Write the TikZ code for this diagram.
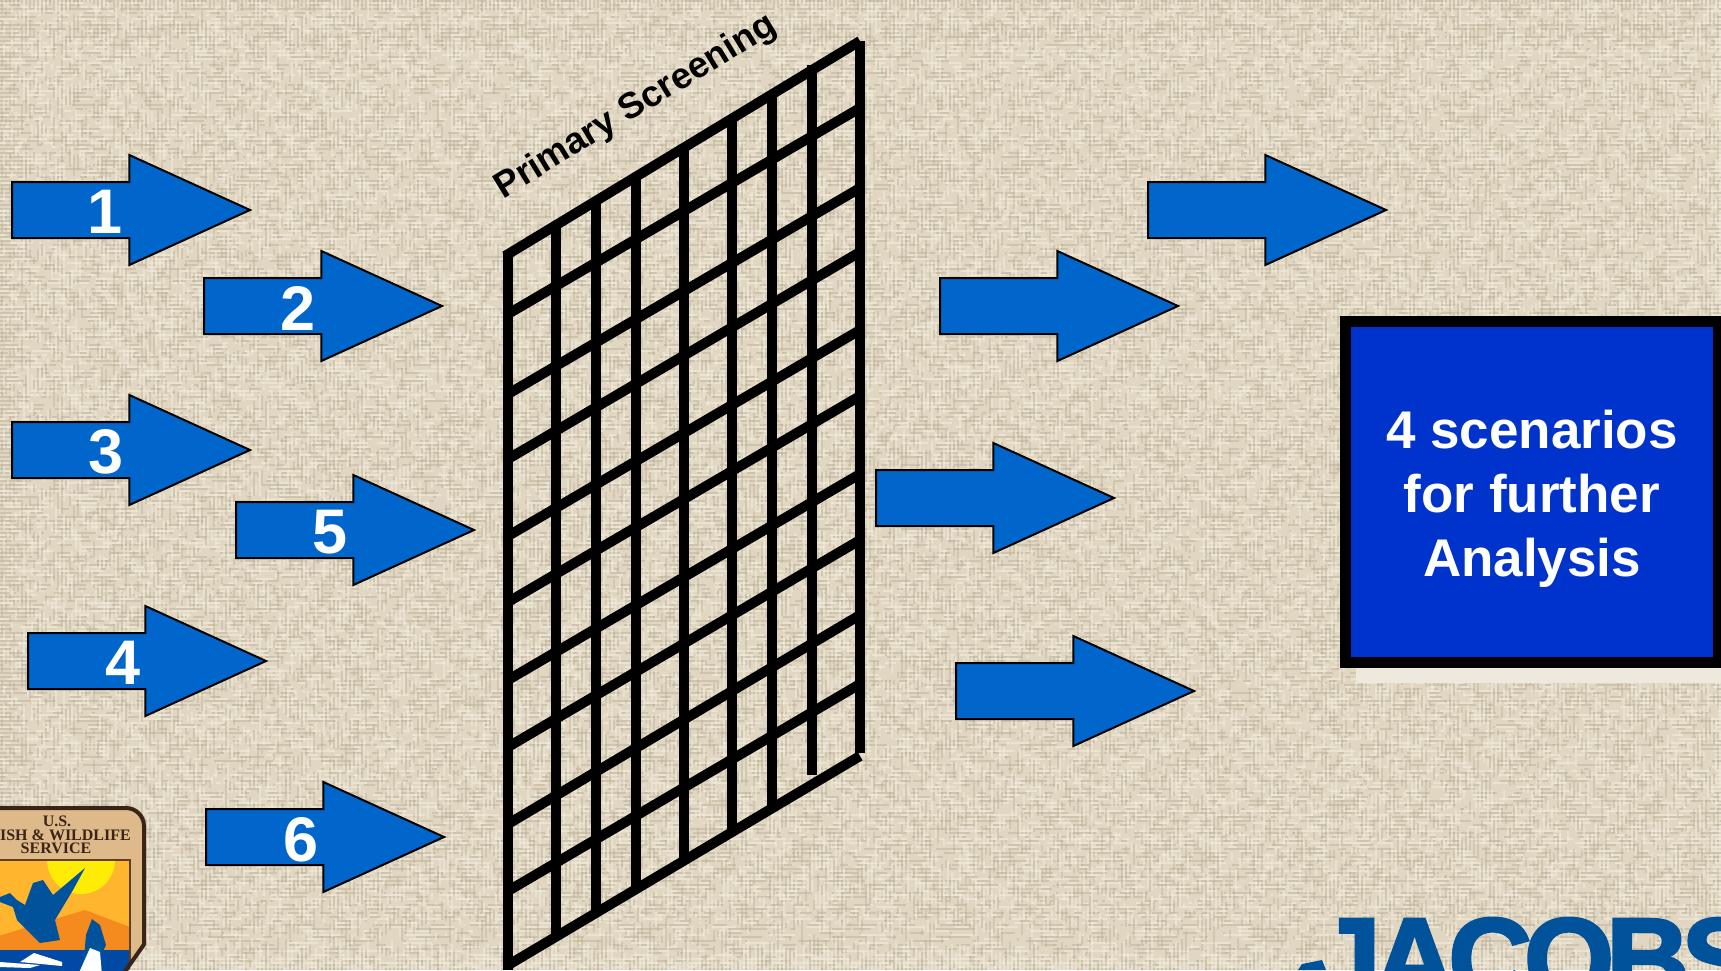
\documentclass[tikz,border=0pt]{standalone}
\usepackage{fontspec}
\setmainfont{Liberation Sans}
\newfontfamily\SerifFont{Liberation Serif}
\newfontfamily\JacobsFont[UprightFont=* Bold,FakeBold=2.5,LetterSpace=-7]{Liberation Sans}
\usepackage{xcolor}
\usetikzlibrary{shapes.arrows}
\definecolor{ColBack}{RGB}{224,214,193}
\definecolor{ColThread}{RGB}{165,155,130}
\definecolor{ColLight}{RGB}{243,237,222}
\definecolor{ColArrow}{RGB}{0,102,204}
\definecolor{ColBox}{RGB}{0,51,204}
\definecolor{ColShadow}{RGB}{237,233,220}
\definecolor{ColJacobs}{RGB}{0,82,155}
\definecolor{ColShield}{RGB}{222,186,138}
\definecolor{ColEdge}{RGB}{58,36,24}
\definecolor{ColSky}{RGB}{255,181,46}
\definecolor{ColHill}{RGB}{245,138,30}
\tikzstyle{BlockArrow}=[single arrow,draw=black,fill=ColArrow,line width=2pt,inner xsep=0pt,inner ysep=27pt,
minimum height=238pt,single arrow head extend=27pt,anchor=tail,
single arrow tip angle=49,single arrow head indent=0pt,outer sep=0pt]
\tikzstyle{ArrowNum}=[text=white,font=\fontsize{63}{63}\selectfont\bfseries,inner sep=0pt]
\tikzstyle{GridLine}=[black,line width=10pt]
\tikzstyle{ScenBox}=[draw=black,fill=ColBox,line width=11pt,minimum width=373pt,minimum height=341pt]
\tikzstyle{ScenText}=[text=white,align=center,inner sep=0pt,font=\fontsize{53}{64}\selectfont\bfseries]
\tikzstyle{LogoText}=[font=\fontsize{16}{16}\SerifFont\bfseries,text=ColEdge,inner sep=0pt]
\begin{document}
\begin{tikzpicture}[x=1pt,y=-1pt]
        \path[use as bounding box,clip](0,0)rectangle(1721,970);
        \fill[ColBack](0,0)rectangle(1721,970);
        % woven background
        \pgfmathsetseed{11}
        \foreach \y in {1,5,...,970}{
            \pgfmathsetmacro{\da}{random(3,40)}
            \pgfmathsetmacro{\db}{random(4,30)}
            \pgfmathsetmacro{\dc}{random(2,14)}
            \pgfmathsetmacro{\dd}{random(6,50)}
            \draw[ColThread,opacity=.3,line width=1.2pt,dash pattern=on \da pt off \db pt on \dc pt off \dd pt](0,\y)--(1721,\y);
            \draw[ColLight,opacity=.6,line width=1.2pt,dash pattern=on \dc pt off \da pt on \db pt off \dd pt](1721,\y+2)--(0,\y+2);
        }
        \foreach \x in {2,6,...,1721}{
            \pgfmathsetmacro{\da}{random(3,30)}
            \pgfmathsetmacro{\db}{random(4,30)}
            \pgfmathsetmacro{\dc}{random(2,12)}
            \pgfmathsetmacro{\dd}{random(6,50)}
            \draw[ColThread,opacity=.24,line width=1.2pt,dash pattern=on \dc pt off \db pt on \da pt off \dd pt](\x,0)--(\x,970);
            \draw[ColLight,opacity=.5,line width=1.2pt,dash pattern=on \da pt off \dd pt on \dc pt off \db pt](\x+2,970)--(\x+2,0);
        }
        % screen
        \foreach \yl/\yr in {314/108,394/188,459/252,536/330,602/396,680/474,747/540,824/615,891/684}{
            \draw[GridLine](508,\yl)--(860,\yr);
        }
        \draw[GridLine](505,256)--(860,41);
        \draw[GridLine](510,964)--(860,756);
        \foreach \x/\yt/\yb in {556/222/937,596/198/913,636/174/889,684/145/860,732/116/831,772/92/807,812/65/775}{
            \draw[GridLine](\x,\yt)--(\x,\yb);
        }
        \draw[GridLine](508,253)--(508,970);
        \draw[GridLine](860,41)--(860,753);
        \node[rotate=31.5,font=\fontsize{36.5}{36.5}\selectfont\bfseries,inner sep=0pt](title)at(636,107){Primary Screening};
        % arrows in front of the screen
        \node[BlockArrow](a1)at(12,210){};
        \node[BlockArrow](a2)at(204,306){};
        \node[BlockArrow](a3)at(12,450){};
        \node[BlockArrow](a5)at(236,530){};
        \node[BlockArrow](a4)at(28,661){};
        \node[BlockArrow](a6)at(206,837){};
        \node[ArrowNum]at(105,212){1};
        \node[ArrowNum]at(298,308){2};
        \node[ArrowNum]at(106,452){3};
        \node[ArrowNum]at(330,532){5};
        \node[ArrowNum]at(123,663){4};
        \node[ArrowNum]at(301,840){6};
        % arrows behind the screen
        \node[BlockArrow](b1)at(1148,210){};
        \node[BlockArrow](b2)at(940,306){};
        \node[BlockArrow](b3)at(876,498){};
        \node[BlockArrow](b4)at(956,691){};
        % result box
        \fill[ColShadow](1356,668)rectangle(1721,683);
        \node[ScenBox](scen)at(1532,492){};
        \node[ScenText](scentext)at(1532,499){4 scenarios\\for further\\Analysis};
        % logos
        \fill[ColJacobs](1298,970)--(1302,964)--(1322,960)--(1326,970)--cycle;
        \node[text=ColJacobs,anchor=base west,inner sep=0pt,font=\fontsize{116}{116}\JacobsFont](jac)at(1316,999){JACOBS};
        \begin{scope}
            \clip(-5,806)--(126,806)arc(-90:0:20)--(146,945)--(125,975)--(-5,975)--cycle;
            \fill[ColShield](-5,800)rectangle(150,975);
            \fill[ColSky](-5,860)rectangle(130,975);
            \begin{scope}
                \clip(-5,860)rectangle(130,975);
                \fill[yellow!90!ColSky](81,860)circle(34);
            \end{scope}
            \fill[ColHill](-5,937)--(85,910)--(130,927)--(130,955)--(-5,955)--cycle;
            \fill[ColJacobs!90!blue](-5,950)rectangle(130,975);
            \draw[ColEdge!80!ColSky,line width=2pt](-5,860)--(130,860)--(130,975);
            \fill[white](34,953)--(62,962)--(62,966)--(20,962)--cycle;
            \fill[white](0,962)--(40,965)--(30,968)--(0,967)--cycle;
            % bird
            \fill[ColJacobs](0,897)--(10,893)--(17,900)--(25,905)--(33,883)--(43,880)--(53,895)--(85,868)--(73,890)--(55,920)--(60,940)--(40,943)--(17,920)--(13,907)--(0,902)--cycle;
            % fish
            \fill[ColJacobs](92,919)--(100,925)--(106,945)--(100,958)--(84,958)--(86,935)--cycle;
            \fill[white](90,948)--(100,952)--(102,975)--(78,975)--cycle;
            \draw[ColEdge,line width=8pt](-5,806)--(126,806)arc(-90:0:20)--(146,945)--(125,975);
        \end{scope}
        \node[LogoText](usa)at(57,821){U.S.};
        \node[LogoText,anchor=east](fws)at(131,835){FISH \& WILDLIFE};
        \node[LogoText](srv)at(56,848){SERVICE};
    \end{tikzpicture}
\end{document}
